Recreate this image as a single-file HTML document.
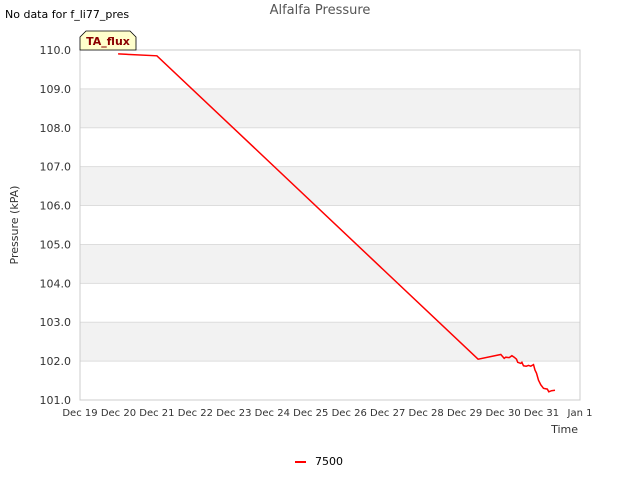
<!DOCTYPE html>
<html><head><meta charset="utf-8"><style>
body{margin:0;background:#fff;font-family:"DejaVu Sans","Liberation Sans",sans-serif;}
svg text{font-family:"DejaVu Sans","Liberation Sans",sans-serif;}
</style></head><body>
<svg id="chart" width="640" height="480">
<rect width="640" height="480" fill="#fff"/>
<text x="320" y="14" text-anchor="middle" font-size="13" fill="#555">Alfalfa Pressure</text>
<text x="5" y="18" font-size="11" fill="#000">No data for f_li77_pres</text>
<g id="bands"></g><g id="grid"></g>
<rect x="80" y="50" width="500" height="350" fill="none" stroke="#ccc"/>
<g id="yticks"></g><g id="xticks"></g>
<path id="line" fill="none" stroke="#ff0000" stroke-width="1.5"/>
<text transform="translate(18,225) rotate(-90)" text-anchor="middle" font-size="11" fill="#333">Pressure (kPA)</text>
<text x="578" y="433" text-anchor="end" font-size="11" fill="#333">Time</text>
<g>
<path d="M80,50 L80,37 L86,31 L130,31 L136,37 L136,50 Z" fill="#ffffcc" stroke="#000" stroke-width="0.8"/>
<text x="108" y="45" text-anchor="middle" font-size="11" font-weight="bold" fill="#8b0000">TA_flux</text>
</g>
<g>
<line x1="295" y1="462" x2="306" y2="462" stroke="#ff0000" stroke-width="2"/>
<text x="315" y="465" font-size="11" fill="#000">7500</text>
</g>
</svg>
<script>
const xTickLabels=["Dec 19","Dec 20","Dec 21","Dec 22","Dec 23","Dec 24","Dec 25","Dec 26","Dec 27","Dec 28","Dec 29","Dec 30","Dec 31","Jan 1"];
const yTicks=[101,102,103,104,105,106,107,108,109,110];
const tDays=[0.99,2.0,10.35,10.94,11.03,11.07,11.16,11.23,11.29,11.35,11.38,11.46,11.49,11.53,11.60,11.66,11.72,11.79,11.83,11.87,11.92,11.98,12.05,12.15,12.19,12.26,12.35];
const pressure=[109.90,109.85,102.05,102.17,102.07,102.10,102.09,102.14,102.10,102.05,101.97,101.94,101.97,101.88,101.87,101.89,101.87,101.91,101.77,101.69,101.51,101.39,101.30,101.28,101.21,101.24,101.25];
const NS="http://www.w3.org/2000/svg";
const X=d=>80+d*500/13, Y=v=>400-(v-101)*350/9;
const bands=document.getElementById('bands'),grid=document.getElementById('grid'),yt=document.getElementById('yticks'),xt=document.getElementById('xticks');
for(let v=102;v<110;v+=2){const r=document.createElementNS(NS,'rect');


r.setAttribute('x',80);r.setAttribute('width',500);r.setAttribute('y',Y(v+1));r.setAttribute('height',Y(v)-Y(v+1));r.setAttribute('fill','#f2f2f2');bands.appendChild(r);}
yTicks.forEach(v=>{const l=document.createElementNS(NS,'line');


l.setAttribute('x1',80);l.setAttribute('x2',580);l.setAttribute('y1',Y(v));l.setAttribute('y2',Y(v));l.setAttribute('stroke','#ddd');grid.appendChild(l);
const t=document.createElementNS(NS,'text');


t.setAttribute('x',71);t.setAttribute('y',Y(v)+4);t.setAttribute('text-anchor','end');t.setAttribute('font-size','11');t.setAttribute('fill','#333');t.textContent=v.toFixed(1);yt.appendChild(t);});
xTickLabels.forEach((s,i)=>{const t=document.createElementNS(NS,'text');


t.setAttribute('x',X(i));t.setAttribute('y',416);t.setAttribute('text-anchor','middle');t.setAttribute('font-size','10');t.setAttribute('fill','#333');t.textContent=s;xt.appendChild(t);});
document.getElementById('line').setAttribute('d',tDays.map((d,i)=>(i?'L':'M')+X(d).toFixed(1)+','+Y(pressure[i]).toFixed(1)).join(''));
</script>
</body></html>
